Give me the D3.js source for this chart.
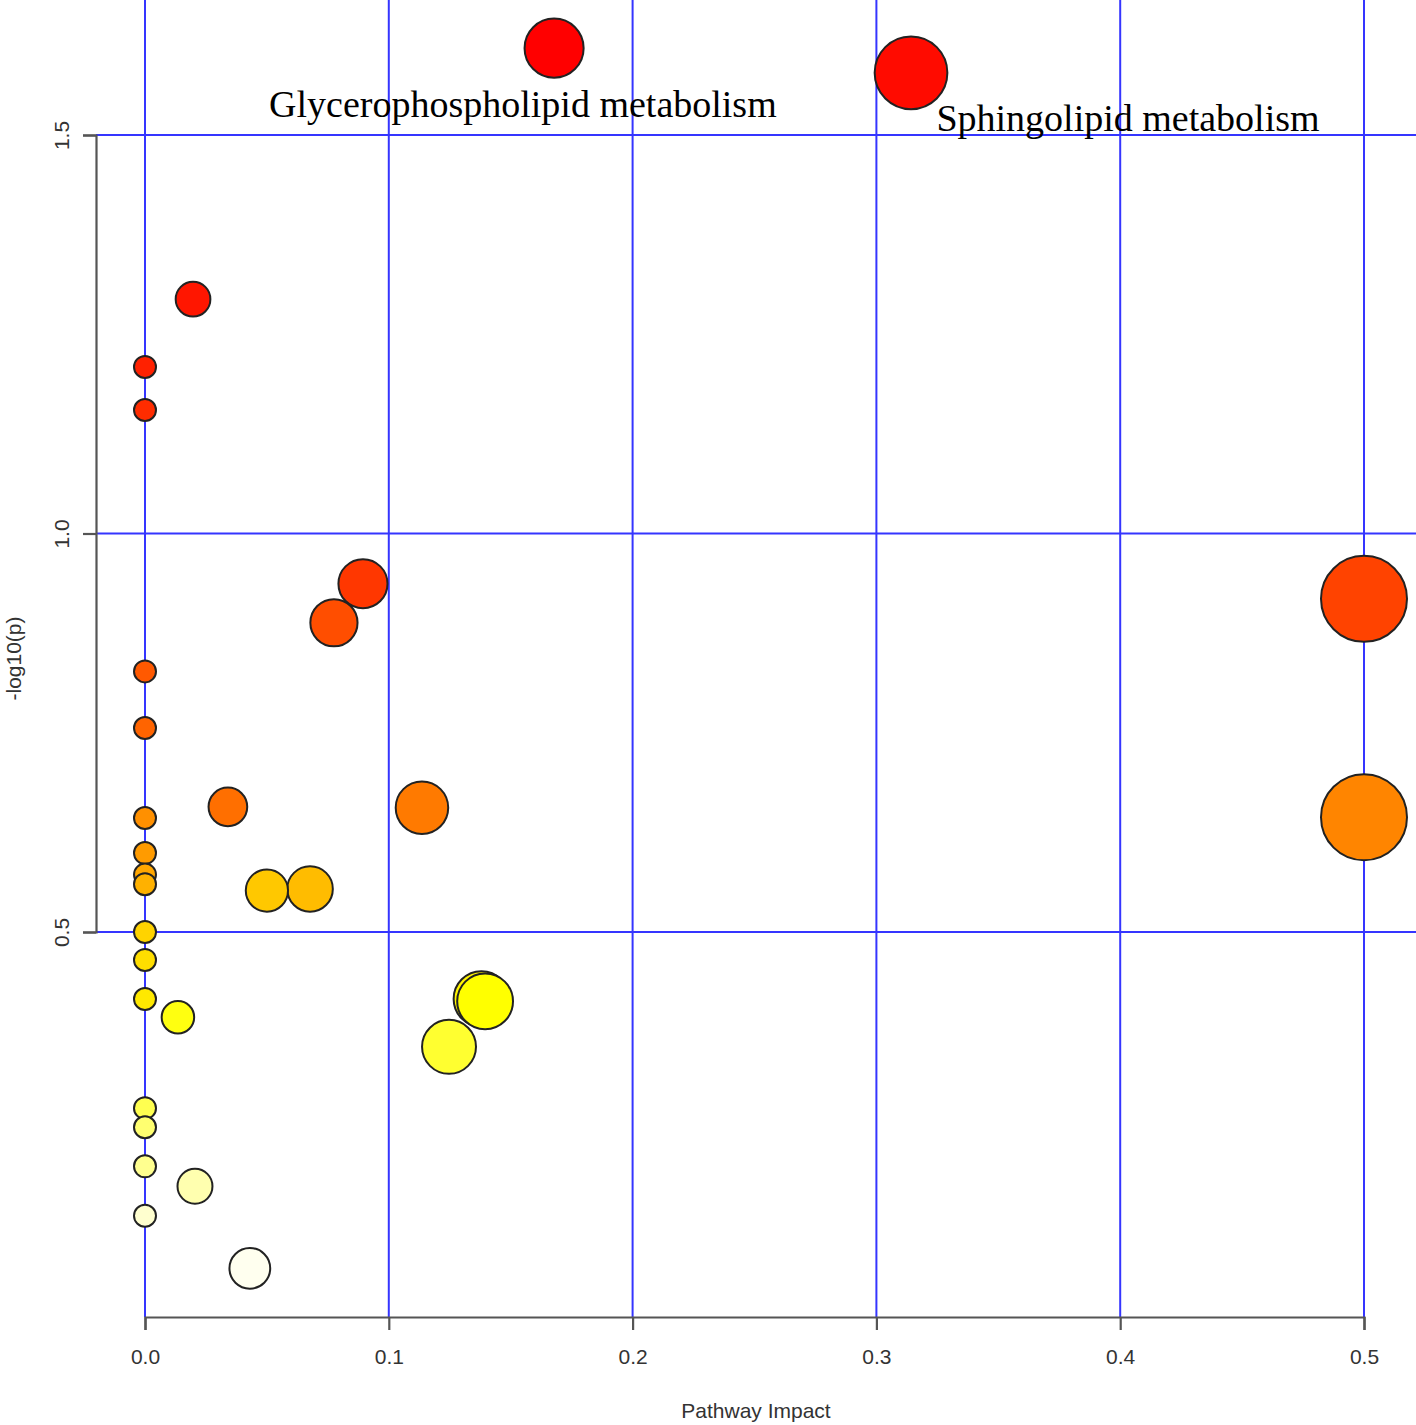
<!DOCTYPE html>
<html>
<head>
<meta charset="utf-8">
<script src="https://cdn.jsdelivr.net/npm/d3@7"></script>
<style>
  html, body { margin: 0; padding: 0; background: #fff; }
  svg { display: block; }
</style>
</head>
<body>
<svg id="chart" width="1416" height="1425"></svg>
<script>
// ---------- data ----------
const impact = [0.1678, 0.3142, 0.0197, 0, 0, 0.0894, 0.5, 0.0775, 0, 0,
                0.0340, 0.1136, 0.5, 0, 0, 0, 0, 0.0677, 0.0500, 0,
                0, 0, 0.1380, 0.1395, 0.0135, 0.1247, 0, 0, 0, 0.0205,
                0, 0.0430];
const logP   = [1.609, 1.578, 1.294, 1.209, 1.155, 0.937, 0.918, 0.888, 0.827, 0.756,
                0.657, 0.656, 0.644, 0.643, 0.599, 0.572, 0.560, 0.554, 0.552, 0.500,
                0.465, 0.416, 0.416, 0.413, 0.393, 0.356, 0.279, 0.255, 0.206, 0.181,
                0.144, 0.078];
const xTicks = [0, 0.1, 0.2, 0.3, 0.4, 0.5];
const yTicks = [0.5, 1.0, 1.5];
const labelNames = ["Glycerophospholipid metabolism", "Sphingolipid metabolism"];
const labelX = [0.155, 0.4032];
const labelY = [1.539, 1.521];

// ---------- R heat.colors ----------
function heatColors(n) {
  const j = Math.floor(n / 4), i = n - j;
  const out = [];
  for (let k = 0; k < i; k++) {
    const h = (i > 1 ? k / (i - 1) : 0) * (1 / 6) * 360;
    out.push(d3.hsl(h, 1, 0.5).formatHex());
  }
  for (let k = 0; k < j; k++) {
    const s = j > 1 ? (1 - 1 / (2 * j)) - k * ((1 - 1 / j) / (j - 1)) : 0.5;
    out.push(d3.rgb(255, 255, Math.round(255 * (1 - s))).formatHex());
  }
  return out;
}

const pts = impact.map((d, i) => ({ x: d, y: logP[i] }));
pts.sort((a, b) => b.y - a.y);
const cols = heatColors(pts.length);
pts.forEach((p, i) => p.c = cols[i]);

// ---------- scales ----------
const plotLeft = 96, plotRight = 1416, plotTop = 0, plotBottom = 1317;
const x = d3.scaleLinear().domain([0, 0.5]).range([145, 1364]);
const y = d3.scaleLinear().domain([0.5, 1.5]).range([932, 135]);
const r = d3.scaleSqrt().domain([0, 0.5]).range([0, 32]);
const radius = v => 11 + r(v);

const svg = d3.select("#chart");
const fontSans = "'Liberation Sans', Arial, sans-serif";

// ---------- grid ----------
const grid = svg.append("g").attr("stroke", "#3535ff").attr("stroke-width", 2);
grid.selectAll("line.v").data(xTicks).join("line")
  .attr("x1", d => x(d)).attr("x2", d => x(d))
  .attr("y1", plotTop).attr("y2", plotBottom);
grid.selectAll("line.h").data(yTicks).join("line")
  .attr("x1", plotLeft).attr("x2", plotRight)
  .attr("y1", d => y(d)).attr("y2", d => y(d));

// ---------- axes ----------
const xAxis = svg.append("g").attr("transform", `translate(0,${plotBottom})`)
  .call(d3.axisBottom(x).tickValues(xTicks).tickFormat(d3.format(".1f")).tickSize(13).tickPadding(19));
const yAxis = svg.append("g").attr("transform", `translate(${plotLeft},0)`)
  .call(d3.axisLeft(y).tickValues(yTicks).tickFormat(d3.format(".1f")).tickSize(13).tickPadding(16));
[xAxis, yAxis].forEach(a => {
  a.select(".domain").attr("stroke", "#555").attr("stroke-width", 2.2);
  a.selectAll(".tick line").attr("stroke", "#555").attr("stroke-width", 2.2);
  a.selectAll(".tick text").attr("fill", "#333").attr("font-size", 21).attr("font-family", fontSans);
});
// left axis tick labels rotated like R (las=0)
yAxis.selectAll(".tick text")
  .attr("x", null).attr("y", null).attr("dy", "0.35em").attr("text-anchor", "middle")
  .attr("transform", "translate(-34,0) rotate(-90)");

// axis titles
svg.append("text").attr("x", (plotLeft + plotRight) / 2).attr("y", 1410)
  .attr("text-anchor", "middle").attr("dominant-baseline", "central")
  .attr("font-family", fontSans).attr("font-size", 21).attr("fill", "#333")
  .text("Pathway Impact");
svg.append("text").attr("transform", `translate(13,${(plotTop + plotBottom) / 2}) rotate(-90)`)
  .attr("text-anchor", "middle").attr("dominant-baseline", "central")
  .attr("font-family", fontSans).attr("font-size", 21).attr("fill", "#333")
  .text("-log10(p)");

// ---------- points ----------
svg.append("g").selectAll("circle").data(pts).join("circle")
  .attr("cx", d => x(d.x)).attr("cy", d => y(d.y)).attr("r", d => radius(d.x))
  .attr("fill", d => d.c).attr("stroke", "#222").attr("stroke-width", 2);

// ---------- labels ----------
svg.append("g").selectAll("text").data(labelNames).join("text")
  .attr("x", (d, i) => x(labelX[i])).attr("y", (d, i) => y(labelY[i]))
  .attr("text-anchor", "middle").attr("dominant-baseline", "central")
  .attr("font-family", "'Liberation Serif', 'Times New Roman', serif")
  .attr("font-size", 38).attr("fill", "#000")
  .text(d => d);
</script>
</body>
</html>
